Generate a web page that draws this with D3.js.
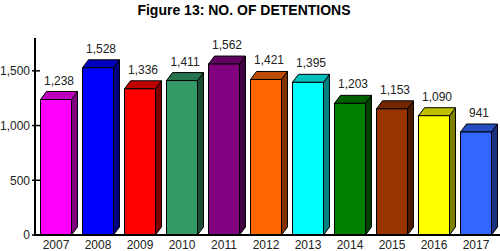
<!DOCTYPE html>
<html>
<head>
<meta charset="utf-8">
<script src="https://cdn.jsdelivr.net/npm/d3@7"></script>
<style>
  body { margin: 0; background: #fff; }
  svg { display: block; font-family: Arial, "Liberation Sans", sans-serif; }
</style>
</head>
<body>
<div id="chart"></div>
<script>
// data
var years = ['2007', '2008', '2009', '2010', '2011', '2012', '2013', '2014', '2015', '2016', '2017'];
var detentions = [1238, 1528, 1336, 1411, 1562, 1421, 1395, 1203, 1153, 1090, 941];
var barColors = ['#ff00ff', '#0000ff', '#ff0000', '#339966', '#800080', '#ff6600',
                 '#00ffff', '#008000', '#993300', '#ffff00', '#3366ff'];
var yTicks = [0, 500, 1000, 1500];

var w = 500, h = 251;
var dx = 6, dy = 8; // depth of the 3d bars

var svg = d3.select('#chart').append('svg')
  .attr('width', w)
  .attr('height', h);

svg.append('text')
  .attr('x', 244)
  .attr('y', 15)
  .attr('text-anchor', 'middle')
  .style('font-size', '14px')
  .style('font-weight', 'bold')
  .text('Figure 13: NO. OF DETENTIONS');

var x = d3.scaleBand()
  .domain(years)
  .range([40.5, 491.5])
  .paddingInner(0.262)
  .paddingOuter(0);

var y = d3.scaleLinear()
  .domain([0, 1800])
  .range([235, 38]);

var data = years.map(function(yr, i) {
  return {year: yr, value: detentions[i], color: barColors[i]};
});

var bars = svg.selectAll('g.bar')
  .data(data)
  .enter()
  .append('g')
  .attr('class', 'bar');

function shade(c, k) {
  return d3.interpolateRgb(c, '#000')(k);
}

// side face
bars.append('path')
  .attr('d', function(d) {
    var x1 = x(d.year) + x.bandwidth(), y0 = y(0), y1 = y(d.value);
    return 'M' + x1 + ',' + y1 + 'L' + (x1 + dx) + ',' + (y1 - dy) +
      'L' + (x1 + dx) + ',' + (y0 - dy) + 'L' + x1 + ',' + y0 + 'Z';
  })
  .style('fill', function(d) { return shade(d.color, 0.5); })
  .style('stroke', '#000')
  .style('stroke-width', 1)
  .style('stroke-linejoin', 'round');

// top face
bars.append('path')
  .attr('d', function(d) {
    var x0 = x(d.year), x1 = x0 + x.bandwidth(), y1 = y(d.value);
    return 'M' + x0 + ',' + y1 + 'L' + (x0 + dx) + ',' + (y1 - dy) +
      'L' + (x1 + dx) + ',' + (y1 - dy) + 'L' + x1 + ',' + y1 + 'Z';
  })
  .style('fill', function(d) { return shade(d.color, 0.25); })
  .style('stroke', '#000')
  .style('stroke-width', 1)
  .style('stroke-linejoin', 'round');

// front face
bars.append('rect')
  .attr('x', function(d) { return x(d.year); })
  .attr('y', function(d) { return y(d.value); })
  .attr('width', x.bandwidth())
  .attr('height', function(d) { return y(0) - y(d.value); })
  .style('fill', function(d) { return d.color; })
  .style('stroke', '#000')
  .style('stroke-width', 1);

// value labels
bars.append('text')
  .attr('x', function(d) { return x(d.year) + x.bandwidth() / 2 + dx / 2; })
  .attr('y', function(d) { return y(d.value) - dy - 7; })
  .attr('text-anchor', 'middle')
  .style('font-size', '12px')
  .style('fill', '#222')
  .text(function(d) { return d3.format(',')(d.value); });

// y axis
var yAxis = svg.append('g')
  .attr('transform', 'translate(35,0)')
  .call(d3.axisLeft(y)
    .tickValues(yTicks)
    .tickSize(0)
    .tickPadding(5)
    .tickFormat(d3.format(',')));
yAxis.select('.domain').remove();
yAxis.selectAll('text')
  .style('font-size', '12px')
  .style('font-family', 'Arial, "Liberation Sans", sans-serif')
  .style('fill', '#222');

svg.selectAll('line.ytick')
  .data(yTicks)
  .enter()
  .append('line')
  .attr('class', 'ytick')
  .attr('x1', 32).attr('x2', 40)
  .attr('y1', function(d) { return y(d); })
  .attr('y2', function(d) { return y(d); })
  .style('stroke', '#000')
  .style('stroke-width', 1.5);

svg.append('line')
  .attr('x1', 35).attr('x2', 35)
  .attr('y1', y(1800)).attr('y2', y(0) + 1)
  .style('stroke', '#000')
  .style('stroke-width', 2);

// baseline
svg.append('line')
  .attr('x1', 34).attr('x2', w)
  .attr('y1', y(0)).attr('y2', y(0))
  .style('stroke', '#000')
  .style('stroke-width', 2);

// x labels
svg.selectAll('text.xlab')
  .data(years)
  .enter()
  .append('text')
  .attr('class', 'xlab')
  .attr('x', function(d) { return x(d) + x.bandwidth() / 2; })
  .attr('y', 249)
  .attr('text-anchor', 'middle')
  .style('font-size', '12px')
  .style('fill', '#222')
  .text(function(d) { return d; });
</script>
</body>
</html>
